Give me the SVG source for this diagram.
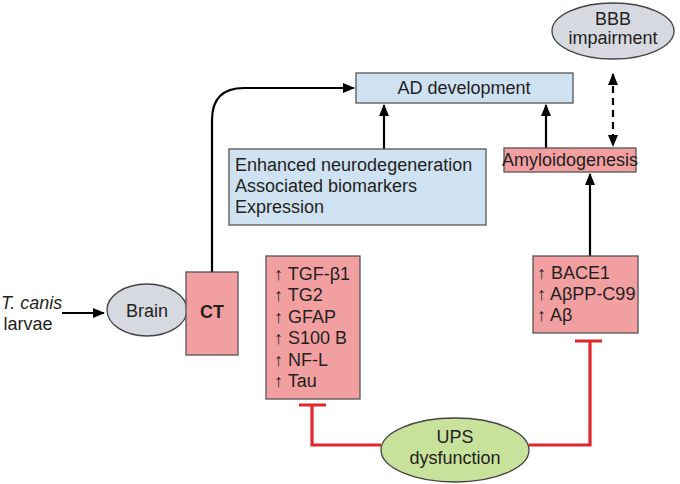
<svg xmlns="http://www.w3.org/2000/svg" width="680" height="484" viewBox="0 0 680 484">
<style>
text{font-family:"Liberation Sans",Arial,sans-serif;font-size:18px;fill:#231f20}
.c{text-anchor:middle}
.pink{fill:#f29fa1;stroke:#555;stroke-width:1.3}
.blue{fill:#cfe2f2;stroke:#555;stroke-width:1.3}
.gray{fill:#d6d9e0;stroke:#444;stroke-width:1.3}
.green{fill:#c8e29c;stroke:#444;stroke-width:1.3}
.ln{fill:none;stroke:#000;stroke-width:2.2}
.red{fill:none;stroke:#e1262d;stroke-width:3.2}
</style>
<defs>
<marker id="ah" viewBox="0 0 12 10" refX="11" refY="5" markerWidth="12" markerHeight="10" markerUnits="userSpaceOnUse" orient="auto-start-reverse">
<path d="M0,0 L12,5 L0,10 Z" fill="#000"/>
</marker>
</defs>
<rect width="680" height="484" fill="#fff"/>
<g id="connectors">
<line class="ln" x1="62" y1="313" x2="104" y2="313" marker-end="url(#ah)"/>
<path class="ln" d="M212,272 V120 Q212,88 244,88 H354" marker-end="url(#ah)"/>
<line class="ln" x1="384" y1="149" x2="384" y2="105" marker-end="url(#ah)"/>
<line class="ln" x1="546" y1="148" x2="546" y2="105" marker-end="url(#ah)"/>
<line class="ln" x1="590" y1="256" x2="590" y2="174" marker-end="url(#ah)"/>
<line class="ln" x1="613" y1="74" x2="613" y2="146" stroke-dasharray="7,5" marker-start="url(#ah)" marker-end="url(#ah)"/>
<path class="red" d="M381,445 H312 V405 M299,405 H326"/>
<path class="red" d="M529,445 H590 V341 M575,341 H602"/>
</g>
<g id="tcanis">
<text x="1" y="309" font-style="italic" font-size="16.5">T. canis</text>
<text class="c" x="28" y="330">larvae</text>
</g>
<g id="brain">
<ellipse class="gray" cx="147" cy="310" rx="40" ry="26"/>
<text class="c" x="147" y="317">Brain</text>
</g>
<g id="ct">
<rect class="pink" x="186" y="272" width="52" height="83"/>
<text class="c" x="212" y="318" font-weight="bold">CT</text>
</g>
<g id="ad">
<rect class="blue" x="356" y="73" width="217" height="30"/>
<text class="c" x="464" y="94">AD development</text>
</g>
<g id="enhanced">
<rect class="blue" x="229" y="149" width="257" height="76"/>
<text x="235" y="171">Enhanced neurodegeneration</text>
<text x="235" y="192">Associated biomarkers</text>
<text x="235" y="213">Expression</text>
</g>
<g id="amyloid">
<rect class="pink" x="504" y="148" width="132" height="24"/>
<text class="c" x="570" y="166" font-size="16.5">Amyloidogenesis</text>
</g>
<g id="bbb">
<ellipse class="gray" cx="613" cy="31" rx="61" ry="28"/>
<text class="c" x="613" y="25">BBB</text>
<text class="c" x="613" y="44">impairment</text>
</g>
<g id="markers">
<rect class="pink" x="266" y="256" width="94" height="143"/>
<text x="274" y="280">↑ TGF-β1</text>
<text x="274" y="301">↑ TG2</text>
<text x="274" y="323">↑ GFAP</text>
<text x="274" y="344">↑ S100 B</text>
<text x="274" y="366">↑ NF-L</text>
<text x="274" y="387">↑ Tau</text>
</g>
<g id="bace">
<rect class="pink" x="533" y="256" width="105" height="77"/>
<text x="537" y="279">↑ BACE1</text>
<text x="537" y="300">↑ AβPP-C99</text>
<text x="537" y="321">↑ Aβ</text>
</g>
<g id="ups">
<ellipse class="green" cx="455" cy="450" rx="74" ry="32"/>
<text class="c" x="455" y="443">UPS</text>
<text class="c" x="455" y="464">dysfunction</text>
</g>
</svg>
